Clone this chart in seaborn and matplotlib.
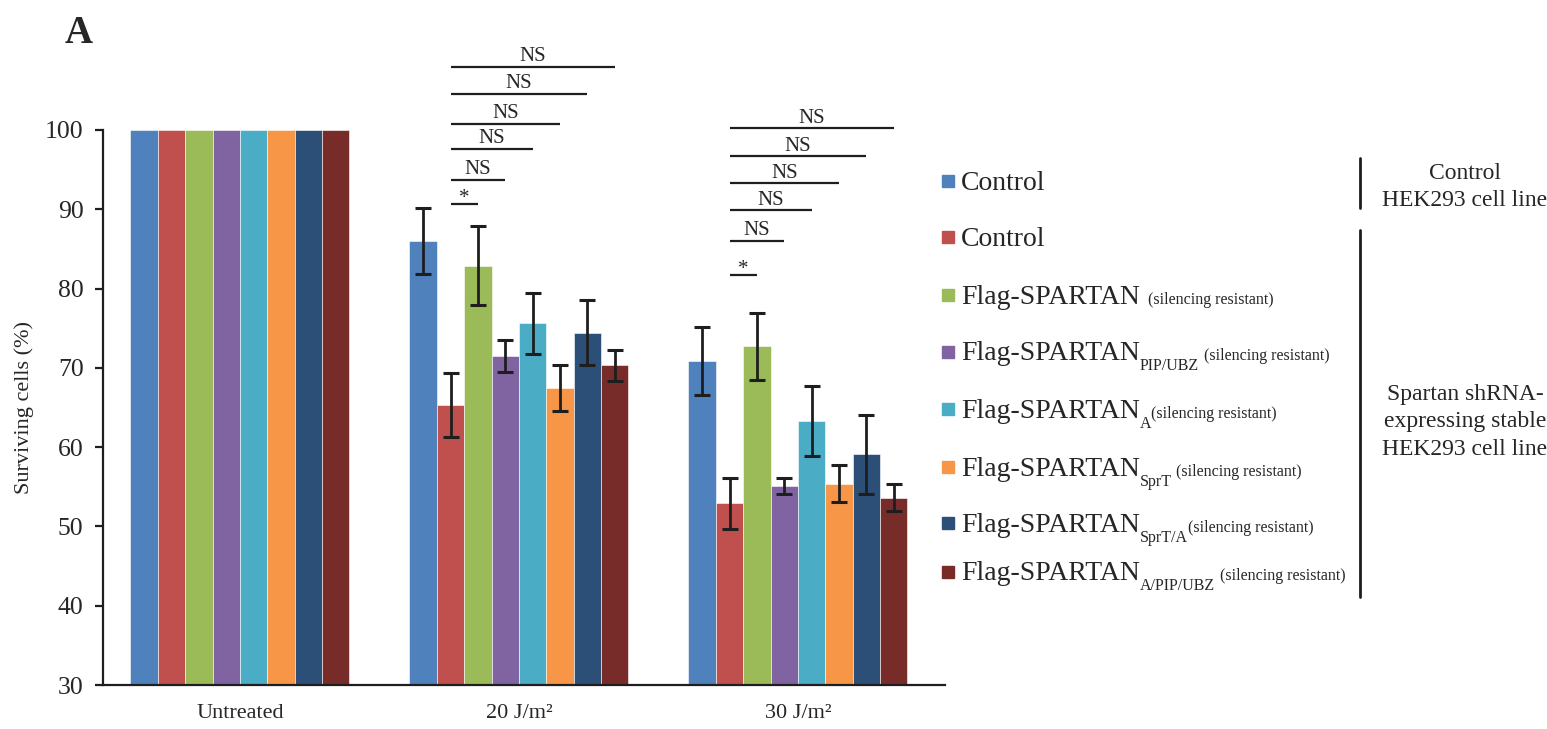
import numpy as np
import pandas as pd
import seaborn as sns
import matplotlib.pyplot as plt
from matplotlib.patches import Rectangle
from matplotlib.lines import Line2D

# -----------------------------
# Data
# -----------------------------
conditions = ["Untreated", "20 J/m²", "30 J/m²"]
cell_lines = ["ctrl_hek", "ctrl_shrna", "wt", "pip_ubz", "a", "sprt", "sprt_a", "a_pip_ubz"]

untreated = [100, 100, 100, 100, 100, 100, 100, 100]
uv20 = [86.0, 65.3, 82.9, 71.5, 75.6, 67.4, 74.4, 70.3]
err20 = [4.1, 4.0, 5.0, 2.0, 3.9, 2.9, 4.1, 2.0]
uv30 = [70.9, 52.9, 72.7, 55.1, 63.3, 55.4, 59.1, 53.6]
err30 = [4.3, 3.2, 4.2, 1.0, 4.4, 2.3, 5.0, 1.7]

# significance: red bar (index 1) vs each of these bars
sig_targets = [2, 3, 4, 5, 6, 7]
sig_labels = ["*", "NS", "NS", "NS", "NS", "NS"]
sig20_y = [90.7, 93.7, 97.6, 100.8, 104.6, 108.0]
sig30_y = [81.7, 86.0, 89.9, 93.3, 96.7, 100.2]

legend_main = ["Control", "Control"] + ["Flag-SPARTAN"] * 6
legend_sub = ["", "", "", "PIP/UBZ", "A", "SprT", "SprT/A", "A/PIP/UBZ"]
legend_note = ["", ""] + ["(silencing resistant)"] * 6

colors = ["#4F81BD", "#C0504D", "#9BBB59", "#8064A2",
          "#4BACC6", "#F79646", "#2B4F77", "#772C2A"]

# -----------------------------
# Figure
# -----------------------------
sns.set_style("ticks")
plt.rcParams["font.family"] = ["Liberation Serif", "DejaVu Serif"]
ink = "#1e1e1e"

W, H = 1547, 729
fig = plt.figure(figsize=(W / 100, H / 100), dpi=100)
ax = fig.add_axes([103 / W, 1 - 685 / H, (945 - 103) / W, (685 - 130) / H])

df = pd.DataFrame({
    "condition": np.repeat(conditions, len(cell_lines)),
    "line": cell_lines * len(conditions),
    "survival": untreated + uv20 + uv30,
})

sns.barplot(data=df, x="condition", y="survival", hue="line",
            order=conditions, hue_order=cell_lines, palette=colors,
            saturation=1, width=0.785, gap=0, errorbar=None, legend=False,
            edgecolor="white", linewidth=0.4, ax=ax)
bars = list(ax.containers)

ax.set_ylim(30, 100)
ax.set_xlim(-0.491, 2.527)
ax.set_yticks(range(30, 101, 10))
ax.set_xlabel("")
ax.set_ylabel("Surviving cells (%)", fontsize=16, labelpad=8)
ax.tick_params(axis="y", labelsize=18.5, length=6, width=1.6, color=ink, pad=8)
ax.tick_params(axis="x", labelsize=16, length=0, pad=14)
sns.despine(ax=ax)
for s in ["left", "bottom"]:
    ax.spines[s].set_linewidth(1.6)
    ax.spines[s].set_color(ink)

# error bars (UV-treated groups only)
for h, cont in enumerate(bars):
    for c, errs, vals in [(1, err20, uv20), (2, err30, uv30)]:
        bar = cont[c]
        xc = bar.get_x() + bar.get_width() / 2
        ax.errorbar(xc, vals[h], yerr=errs[h], fmt="none", ecolor=ink,
                    elinewidth=2, capsize=5.5, capthick=2.2, zorder=3)

# significance lines
for c, levels in [(1, sig20_y), (2, sig30_y)]:
    ref = bars[1][c]
    x0 = ref.get_x() + ref.get_width() / 2
    for tgt, lab, y in zip(sig_targets, sig_labels, levels):
        b = bars[tgt][c]
        x1 = b.get_x() + b.get_width() / 2
        ax.plot([x0, x1], [y, y], color=ink, lw=1.6, clip_on=False,
                solid_capstyle="butt")
        off = 0.5 if lab == "*" else 4
        ax.annotate(lab, xy=((x0 + x1) / 2, y), xytext=(0, off),
                    textcoords="offset points", ha="center", va="baseline",
                    fontsize=15, annotation_clip=False)

# -----------------------------
# Legend (drawn by hand for sub/superscript styling)
# -----------------------------
legend_y = [181, 237, 295, 352, 409, 467, 523, 572]
note_gap = [0, 0, 8, 5, 0, 4, 0, 5]
renderer = fig.canvas.get_renderer()
for i, ry in enumerate(legend_y):
    fig.patches.append(Rectangle((942 / W, 1 - (ry + 6) / H), 12 / W, 12 / H,
                                 transform=fig.transFigure, color=colors[i]))
    t = fig.text(961 / W, 1 - (ry + 8.5) / H, legend_main[i],
                 fontsize=20, va="baseline")
    x_end = t.get_window_extent(renderer).x1
    if legend_sub[i]:
        s = fig.text(x_end / W, 1 - (ry + 18.5) / H, legend_sub[i],
                     fontsize=11.5, va="baseline")
        x_end = s.get_window_extent(renderer).x1
    if legend_note[i]:
        fig.text((x_end + note_gap[i]) / W, 1 - (ry + 8.5) / H, legend_note[i],
                 fontsize=11.5, va="baseline")

# group brackets on the right
fig.add_artist(Line2D([1360 / W] * 2, [1 - 158 / H, 1 - 208 / H],
                      transform=fig.transFigure, color=ink, lw=2))
fig.add_artist(Line2D([1360 / W] * 2, [1 - 230 / H, 1 - 597 / H],
                      transform=fig.transFigure, color=ink, lw=2))
fig.text(1465 / W, 1 - 187 / H, "Control\nHEK293 cell line",
         ha="center", va="center", fontsize=17, linespacing=1.4)
fig.text(1465 / W, 1 - 422 / H, "Spartan shRNA-\nexpressing stable\nHEK293 cell line",
         ha="center", va="center", fontsize=17, linespacing=1.4)

fig.text(65 / W, 1 - 43 / H, "A", fontsize=28, fontweight="bold", va="baseline")

fig.savefig("out.png", dpi=100)
